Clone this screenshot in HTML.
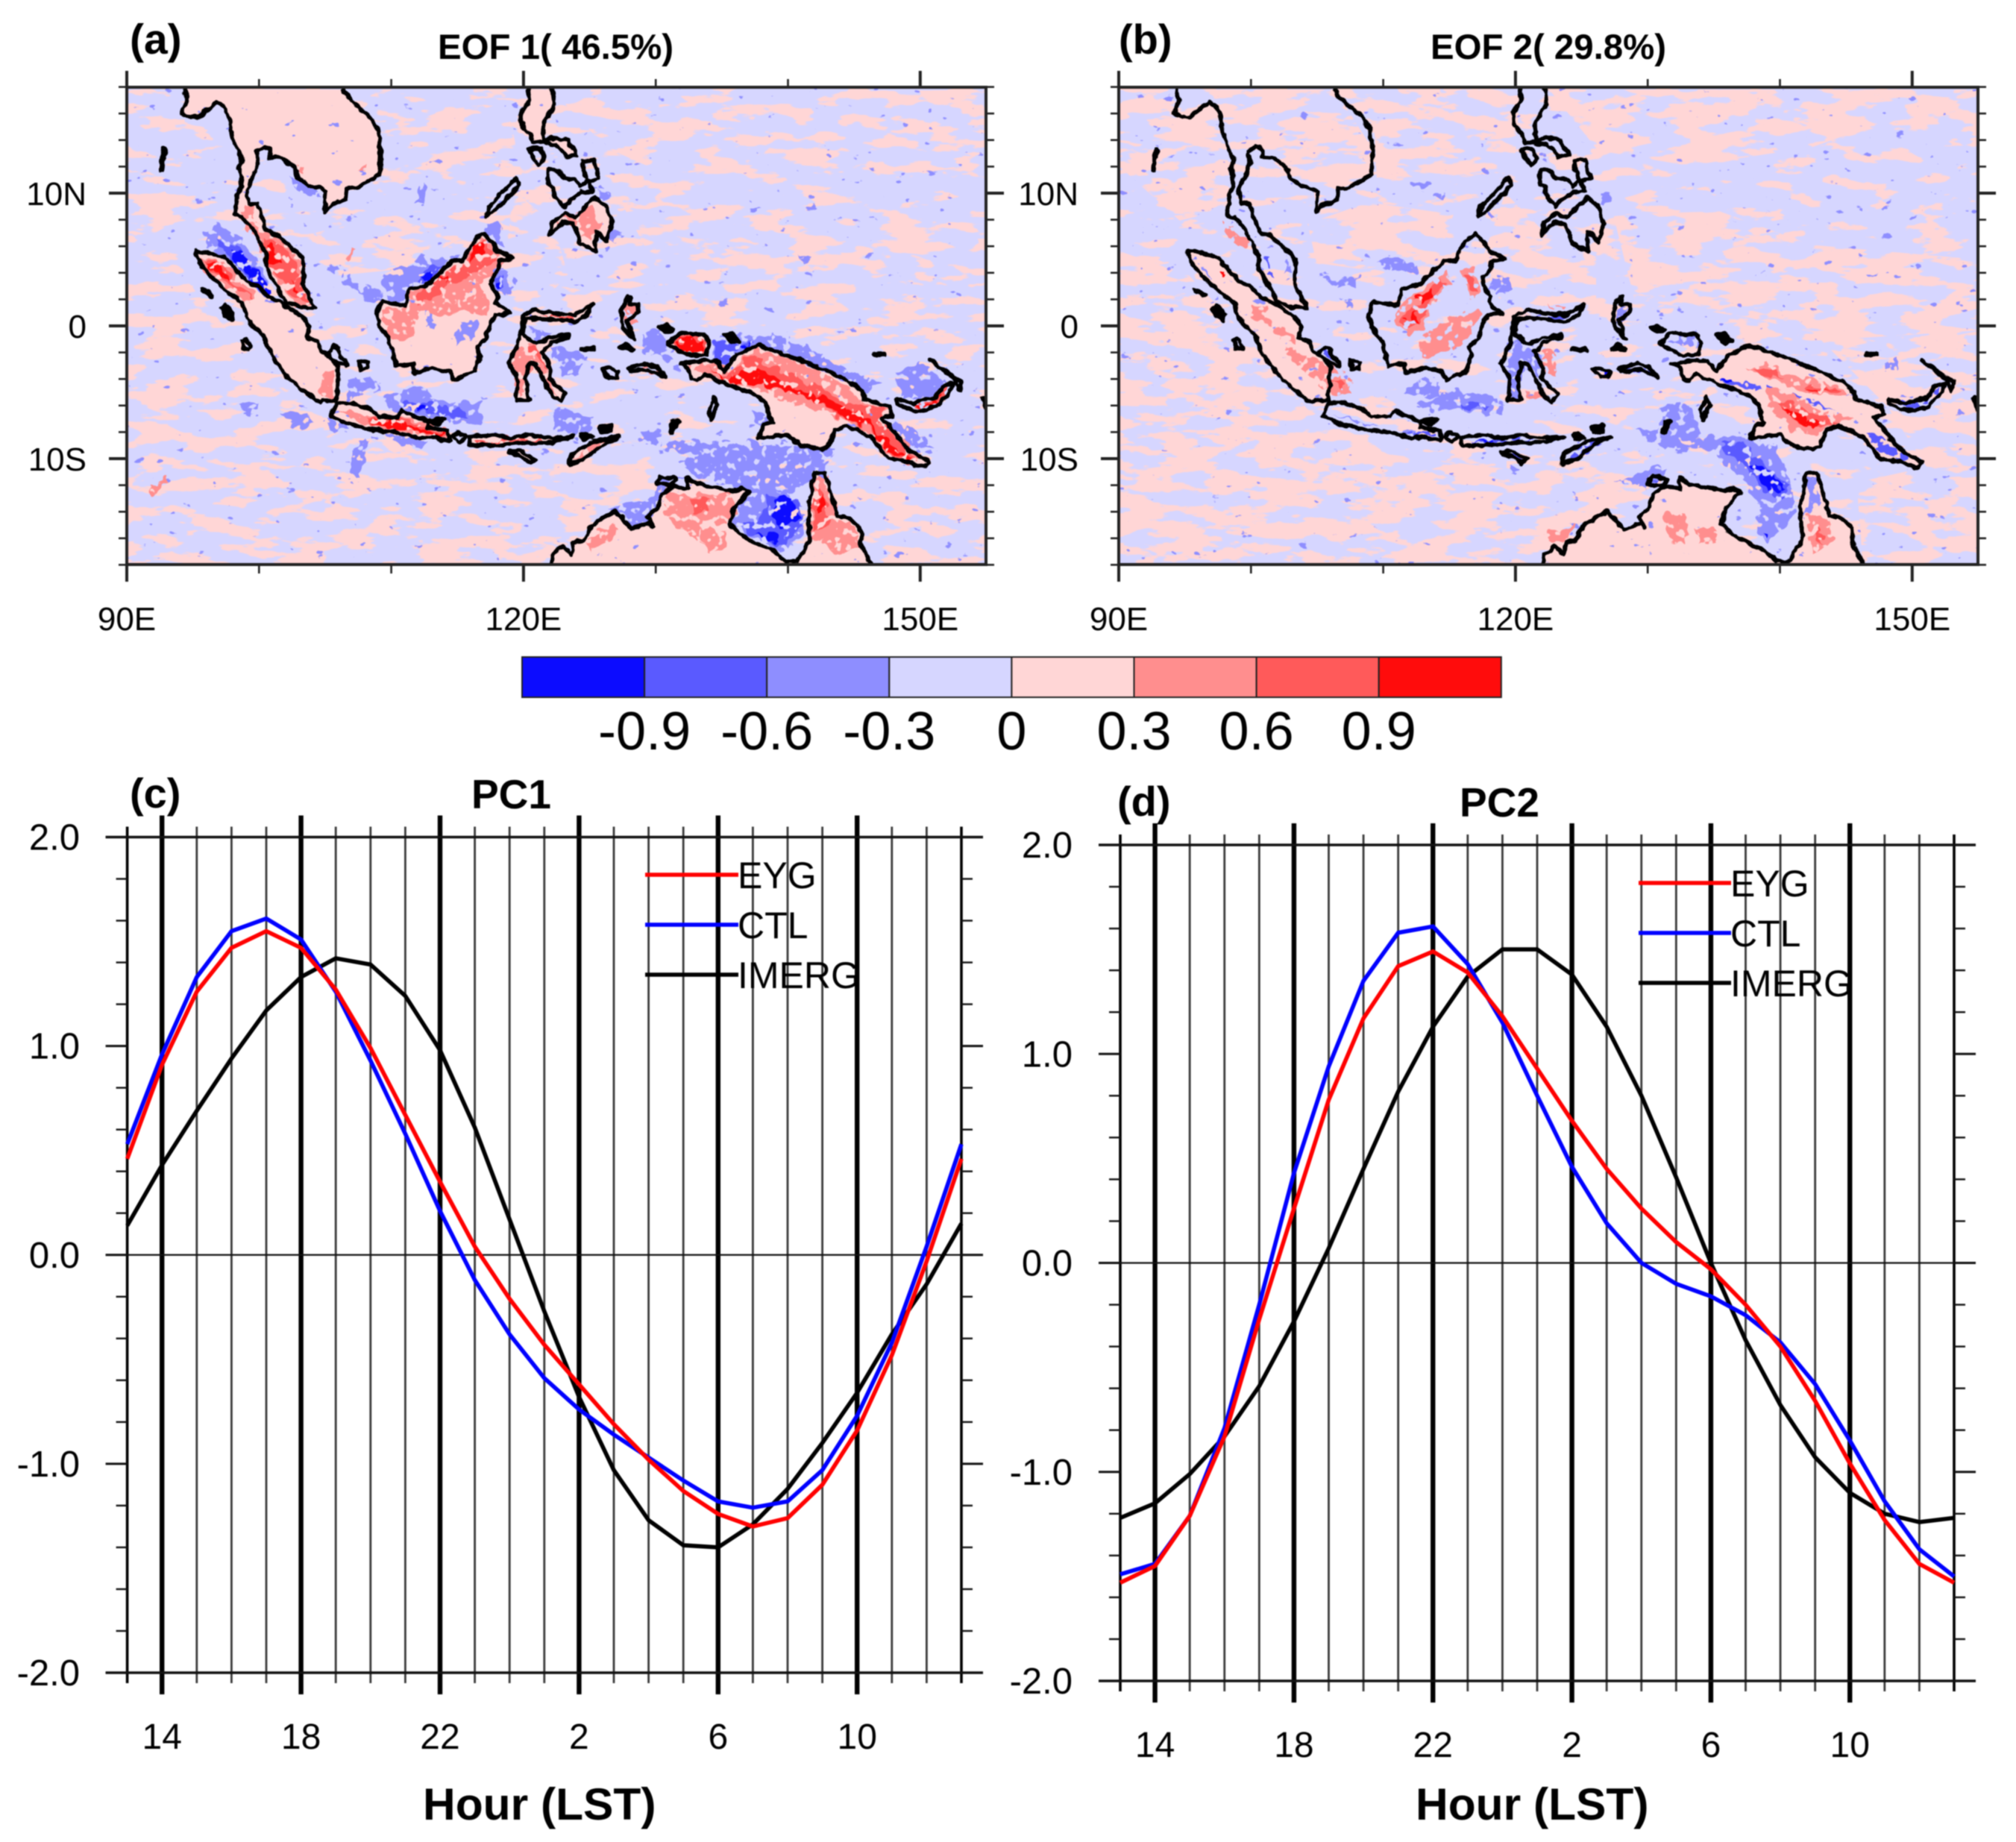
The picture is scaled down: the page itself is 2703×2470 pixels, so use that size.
<!DOCTYPE html>
<html lang="en">
<head>
<meta charset="utf-8">
<title>EOF patterns and principal components</title>
<style>
html,body{margin:0;padding:0;background:#fff;}
#figure{display:block;width:2703px;height:2470px;font-family:"Liberation Sans",sans-serif;filter:blur(.7px);}
text{font-family:"Liberation Sans",sans-serif;fill:#000;}
.ttl{font-weight:bold;}
</style>
</head>
<body>
<svg id="figure" viewBox="0 0 2703 2470" width="2703" height="2470">
<defs>
<filter id="mottleSparse" filterUnits="userSpaceOnUse" x="0" y="0" width="2703" height="800" color-interpolation-filters="sRGB">
<feTurbulence type="fractalNoise" baseFrequency="0.016 0.05" numOctaves="4" seed="7" result="n"/>
<feColorMatrix in="n" type="matrix" values="0 0 0 0 0 0 0 0 0 0 0 0 0 0 0 26 0 0 0 -15.4" result="m"/>
<feComposite in="SourceGraphic" in2="m" operator="in"/>
</filter>
<filter id="mottleDenseA" filterUnits="userSpaceOnUse" x="0" y="0" width="2703" height="800" color-interpolation-filters="sRGB">
<feTurbulence type="fractalNoise" baseFrequency="0.016 0.05" numOctaves="4" seed="7" result="n"/>
<feColorMatrix in="n" type="matrix" values="0 0 0 0 0 0 0 0 0 0 0 0 0 0 0 26 0 0 0 -13.4" result="m"/>
<feComposite in="SourceGraphic" in2="m" operator="in"/>
</filter>
<filter id="mottleDenseB" filterUnits="userSpaceOnUse" x="0" y="0" width="2703" height="800" color-interpolation-filters="sRGB">
<feTurbulence type="fractalNoise" baseFrequency="0.016 0.05" numOctaves="4" seed="7" result="n"/>
<feColorMatrix in="n" type="matrix" values="0 0 0 0 0 0 0 0 0 0 0 0 0 0 0 26 0 0 0 -11.9" result="m"/>
<feComposite in="SourceGraphic" in2="m" operator="in"/>
</filter>
<filter id="speck" filterUnits="userSpaceOnUse" x="0" y="0" width="2703" height="800" color-interpolation-filters="sRGB">
<feTurbulence type="fractalNoise" baseFrequency="0.05 0.08" numOctaves="3" seed="21" result="n"/>
<feColorMatrix in="n" type="matrix" values="0 0 0 0 0 0 0 0 0 0 0 0 0 0 0 26 0 0 0 -19.6" result="m"/>
<feComposite in="SourceGraphic" in2="m" operator="in"/>
</filter>
<filter id="rough" filterUnits="userSpaceOnUse" x="0" y="0" width="2703" height="800" color-interpolation-filters="sRGB">
<feTurbulence type="fractalNoise" baseFrequency="0.07" numOctaves="2" seed="3" result="d"/>
<feDisplacementMap in="SourceGraphic" in2="d" scale="18" xChannelSelector="R" yChannelSelector="G" result="s"/>
<feTurbulence type="fractalNoise" baseFrequency="0.1" numOctaves="2" seed="11" result="h"/>
<feColorMatrix in="h" type="matrix" values="0 0 0 0 0 0 0 0 0 0 0 0 0 0 0 22 0 0 0 -7.9" result="m"/>
<feComposite in="s" in2="m" operator="in"/>
</filter>
<filter id="coastWobble" filterUnits="userSpaceOnUse" x="0" y="0" width="2703" height="800" color-interpolation-filters="sRGB">
<feTurbulence type="fractalNoise" baseFrequency="0.09" numOctaves="2" seed="5" result="d"/>
<feDisplacementMap in="SourceGraphic" in2="d" scale="7" xChannelSelector="R" yChannelSelector="G"/>
</filter>
<clipPath id="clipA"><rect x="170" y="117" width="1152" height="640"/></clipPath>
<clipPath id="clipB"><rect x="1500" y="117" width="1152" height="640"/></clipPath>
</defs>
<rect x="0" y="0" width="2703" height="2470" fill="#fff"/>

<text class="ttl" x="174" y="72" font-size="57">(a)</text>
<text class="ttl" x="587" y="79" font-size="47.4">EOF 1( 46.5%)</text>
<text class="ttl" x="1500" y="72" font-size="56">(b)</text>
<text class="ttl" x="1918" y="79" font-size="47.4">EOF 2( 29.8%)</text>
<text class="ttl" x="174" y="1083" font-size="56">(c)</text>
<text class="ttl" x="632" y="1084" font-size="55">PC1</text>
<text class="ttl" x="1498" y="1094" font-size="56">(d)</text>
<text class="ttl" x="1957" y="1095" font-size="55">PC2</text>
<text class="ttl" x="567" y="2440" font-size="60.5">Hour (LST)</text>
<text class="ttl" x="1898" y="2440" font-size="60.5">Hour (LST)</text>
<g id="layer"></g>
</svg>

<script>
/* ---------- PC time-series data ---------- */
const hourLabels = [13,14,15,16,17,18,19,20,21,22,23,0,1,2,3,4,5,6,7,8,9,10,11,12,13];
const valueTicks = [2.0,1.0,0.0,-1.0,-2.0];

const eygPc1   = [0.46,0.91,1.26,1.47,1.55,1.47,1.27,0.99,0.67,0.35,0.04,-0.21,-0.43,-0.62,-0.81,-0.98,-1.13,-1.24,-1.30,-1.26,-1.10,-0.84,-0.48,-0.03,0.46];
const ctlPc1   = [0.53,0.96,1.33,1.55,1.61,1.51,1.26,0.93,0.58,0.21,-0.12,-0.38,-0.59,-0.74,-0.86,-0.97,-1.08,-1.18,-1.21,-1.18,-1.03,-0.77,-0.42,0.04,0.53];
const imergPc1 = [0.14,0.43,0.69,0.94,1.17,1.33,1.42,1.39,1.24,0.98,0.61,0.17,-0.27,-0.68,-1.03,-1.27,-1.39,-1.40,-1.29,-1.12,-0.90,-0.66,-0.38,-0.14,0.15];

const eygPc2   = [-1.53,-1.45,-1.21,-0.83,-0.27,0.26,0.78,1.17,1.42,1.49,1.39,1.18,0.93,0.68,0.45,0.26,0.10,-0.03,-0.20,-0.40,-0.66,-0.96,-1.23,-1.44,-1.53];
const ctlPc2   = [-1.49,-1.44,-1.21,-0.79,-0.20,0.43,0.94,1.35,1.58,1.61,1.43,1.15,0.80,0.46,0.19,0.00,-0.10,-0.16,-0.25,-0.38,-0.58,-0.85,-1.14,-1.37,-1.50];
const imergPc2 = [-1.22,-1.15,-1.01,-0.83,-0.59,-0.28,0.07,0.45,0.82,1.13,1.37,1.50,1.50,1.38,1.13,0.80,0.41,0.00,-0.37,-0.68,-0.93,-1.10,-1.20,-1.24,-1.22];

/* ---------- colour bar ---------- */
const colorbarColors = ['#0c0cff','#5a5aff','#8e8eff','#d6d6ff','#ffd6d6','#ff8e8e','#ff5a5a','#ff0c0c'];
const colorbarLabels = ['-0.9','-0.6','-0.3','0','0.3','0.6','0.9'];

/* ---------- map axes ---------- */
const lonTickValues = [90,100,110,120,130,140,150];
const lonLabelValues = [90,120,150];
const latLabelValues = [10,0,-10];

/* ---------- map geometry, in data-grid cells (about 0.023 deg each).
   "W" shapes are counted from 90E, "E" shapes from 119.33E, rows from 18N. ---------- */
const coast = {
 mainland:{o:'W',open:1,p:[190,8,197,45,180,88,205,100,235,100,265,75,297,50,320,65,335,100,345,160,365,210,378,240,368,270,378,295,372,330,360,385,355,420,380,430,420,475,460,555,458,590,490,650,520,705,570,725,617,727,580,650,580,565,500,490,460,475,440,420,428,385,400,385,395,340,415,290,430,255,428,210,450,198,470,205,470,232,510,235,550,265,565,300,595,325,635,335,655,345,650,395,648,412,680,385,718,372,722,335,760,330,830,290,835,210,825,140,790,90,740,50,710,10]},
 sumatra:{o:'W',p:[228,540,265,545,320,560,350,590,395,640,430,655,465,690,510,712,560,745,585,765,600,790,590,825,625,835,640,870,660,880,695,920,690,1030,645,1030,635,1040,580,1000,530,955,490,905,465,860,450,820,410,780,395,760,378,710,330,675,290,635,245,590,228,555]},
 bangka:{o:'W',p:[655,880,680,855,695,860,700,885,725,905,722,918,695,905,665,890]},
 belitung:{o:'W',p:[762,900,795,905,790,925,765,928]},
 mentawaiA:{o:'W',p:[250,665,282,685,278,688,250,670]},
 mentawaiB:{o:'W',p:[310,730,325,718,348,745,345,768,325,755]},
 mentawaiC:{o:'W',p:[378,835,390,828,408,855,403,865,385,860]},
 andaman:{o:'W',p:[122,205,112,275,116,275,125,205]},
 borneo:{o:'W',p:[838,705,870,712,915,720,930,665,990,650,1040,600,1070,575,1105,572,1130,520,1170,482,1205,520,1215,540,1270,563,1225,575,1220,600,1200,625,1195,650,1220,690,1215,712,1258,745,1210,750,1190,790,1180,830,1150,855,1160,885,1140,935,1075,965,1060,935,1005,925,990,930,945,940,940,910,885,918,870,860,860,825,830,790,820,745]},
 sulawesi:{o:'W',p:[1340,733,1400,745,1470,750,1510,725,1530,715,1510,750,1470,772,1400,765,1340,762,1310,765,1300,810,1320,830,1345,845,1390,825,1450,815,1450,825,1400,840,1365,870,1380,900,1395,930,1390,960,1415,985,1440,1010,1425,1035,1400,1020,1380,985,1365,950,1345,915,1325,905,1310,960,1320,1030,1280,1030,1285,960,1255,910,1280,860,1295,800,1300,755]},
 java:{o:'W',p:[690,1040,740,1040,800,1060,830,1085,890,1085,905,1065,985,1100,990,1120,1055,1130,1060,1165,1000,1150,960,1155,880,1135,790,1125,720,1105,670,1080]},
 madura:{o:'W',p:[990,1100,1045,1092,1020,1110]},
 bali:{o:'W',p:[1070,1150,1090,1135,1115,1150,1095,1170]},
 sunda:{o:'W',p:[1125,1150,1200,1145,1260,1155,1320,1145,1400,1155,1465,1150,1400,1170,1300,1170,1200,1180,1130,1178]},
 sumba:{o:'W',p:[1255,1200,1290,1195,1340,1225,1325,1235,1290,1215]},
 palawan:{o:'W',p:[1280,300,1290,325,1200,415,1180,425,1190,395]},
 timor:{o:'E',p:[180,1240,190,1205,260,1165,345,1150,300,1170,225,1225]},
 alor:{o:'E',p:[215,1145,235,1138,255,1152,225,1155]},
 wetar:{o:'E',p:[280,1120,320,1112,315,1132,285,1135]},
 luzon:{o:'E',open:1,p:[45,8,50,45,20,85,25,130,50,155,60,185,90,180,120,170,175,175,205,225,170,230,135,190,100,185,90,130,130,60,125,10]},
 mindoro:{o:'E',p:[45,205,85,205,100,240,80,260,65,240]},
 visayas:{o:'E',p:[110,270,145,280,165,300,200,305,215,330,240,310,225,270,220,245,260,240,275,300,245,310,255,345,220,345,185,370,160,395,135,365,125,330,110,325]},
 mindanao:{o:'E',p:[115,490,120,450,165,415,200,430,230,395,265,365,300,390,320,450,300,510,270,475,265,540,215,515,205,480,190,450,160,445,135,465]},
 halmahera:{o:'E',p:[370,690,350,735,355,790,390,830,370,770,405,740,405,715,375,715,378,690]},
 vogelkop:{o:'E',p:[500,845,545,810,620,815,640,840,630,880,580,885,545,870]},
 newGuinea:{o:'E',p:[545,910,625,900,660,900,690,935,730,880,800,850,900,885,1030,935,1100,970,1140,1000,1150,1030,1230,1050,1240,1080,1205,1085,1250,1140,1290,1190,1330,1215,1365,1235,1345,1252,1300,1235,1225,1220,1170,1150,1090,1115,1050,1130,1030,1180,1005,1192,940,1180,900,1145,800,1155,820,1110,845,1105,825,1040,790,1010,700,980,625,945,600,965,580,960,570,925]},
 newBritain:{o:'E',p:[1255,1028,1310,1040,1385,1020,1405,985,1440,975,1430,1005,1385,1050,1335,1065,1290,1060,1255,1040]},
 newIreland:{o:'E',p:[1365,900,1430,945,1470,970,1460,1000,1445,960]},
 bougainville:{o:'E',p:[1535,1020,1552,1030,1548,1060]},
 dashA:{o:'E',p:[1180,878,1215,878,1215,882,1180,882]},
 dashB:{o:'E',p:[220,860,260,860,260,866,220,866]},
 triangle:{o:'E',p:[345,860,365,845,390,865]},
 buru:{o:'E',p:[285,930,310,922,340,935,335,955,310,955]},
 seram:{o:'E',p:[370,925,430,910,470,920,495,955,440,930,380,935]},
 waigeo:{o:'E',p:[475,790,500,785,520,800,495,808]},
 biak:{o:'E',p:[690,815,715,810,738,835,715,842]},
 aru:{o:'E',p:[640,1060,655,1020,668,1045,645,1095]},
 tanimbar:{o:'E',p:[510,1135,520,1100,538,1100,520,1135]},
 melville:{o:'E',p:[465,1305,480,1280,530,1290,515,1310]},
 australia:{o:'E',open:1,p:[120,1568,125,1535,160,1510,185,1540,195,1500,225,1490,255,1440,330,1395,385,1455,440,1435,455,1445,435,1415,470,1380,480,1340,520,1315,570,1320,565,1285,600,1305,720,1330,745,1320,768,1330,720,1385,705,1440,770,1490,850,1525,890,1560,930,1558,970,1490,965,1380,985,1270,1020,1270,1060,1410,1095,1415,1135,1450,1140,1510,1170,1568]}
};
const solidIslands = ['mentawaiA','mentawaiB','andaman','dashA','dashB','triangle','waigeo','biak','tanimbar','alor','wetar','madura','bougainville'];
const landPinkA = ['mainland','sumatra','borneo','sulawesi','java','newGuinea','australia','vogelkop','sunda','mindanao','luzon','timor','sumba'];
const landPinkB = ['sumatra','newGuinea','australia'];

/* background anomaly regions: mottled pink (0 to 0.3) */
const pinkA = [
 ['W',[0,600,200,640,330,800,470,960,620,1060,850,1200,1250,1260,1450,1300,1400,1568,0,1568]],
 ['W',[0,300,120,340,200,420,60,500,0,480]],
 ['W',[0,0,190,0,190,120,60,140,0,100]],
 ['W',[620,480,800,440,1000,400,1100,500,900,600,700,620]],
 ['W',[800,60,1250,60,1300,300,1000,280,850,250]],
 ['W',[1270,340,1400,450,1450,620,1350,720,1230,700]],
 ['E',[150,40,800,20,1568,10,1568,260,1100,300,800,260,500,290,300,200]],
 ['E',[350,380,800,380,1100,450,1568,420,1568,820,1200,880,800,760,500,660]],
 ['E',[1100,1280,1568,1150,1568,1568,1150,1568]],
 ['E',[0,1240,500,1240,300,1400,100,1568,0,1568]]
];
const pinkB = [
 ['W',[0,540,230,620,400,800,620,1060,900,1210,1300,1260,1568,1300,1568,1568,0,1568]],
 ['W',[0,0,340,0,370,400,200,440,0,260]],
 ['W',[190,10,710,10,830,200,830,290,720,340,650,400,640,340,560,290,470,220,430,200,380,240,330,90]],
 ['W',[190,10,710,10,830,200,830,290,720,340,650,400,640,340,560,290,470,220,430,200,380,240,330,90]],
 ['W',[700,0,1320,0,1300,260,1050,300,850,350,840,150]],
 ['W',[620,450,820,380,1100,420,1050,560,800,600,650,580]],
 ['W',[1270,350,1400,480,1568,560,1568,700,1400,720,1250,700,1200,550]],
 ['E',[140,10,1568,10,1568,120,1200,130,1000,200,600,260,300,210]],
 ['E',[350,420,700,410,1000,520,1568,570,1568,800,1100,830,800,760,420,700]],
 ['E',[1000,800,1300,850,1568,800,1568,1568,1170,1568,1150,1300,1380,1250,1250,1050]],
 ['E',[0,1230,450,1230,470,1320,330,1390,130,1500,100,1568,0,1568]]
];
/* contour regions: [colour-bar index, origin, cells] */
const fieldA = [
 [2,'W',[250,480,300,450,360,490,420,560,480,680,450,690,400,640,340,570,270,530]],
 [1,'W',[300,510,350,520,420,590,470,670,455,690,400,630,340,570]],
 [0,'W',[335,545,380,550,440,620,480,680,460,690,400,625]],
 [2,'W',[705,610,760,640,830,665,840,700,800,710,750,670,710,640]],
 [2,'W',[840,610,930,590,960,550,1050,570,1000,640,930,660,910,710,860,700,840,650]],
 [1,'W',[960,620,1010,590,1040,590,990,640,960,650]],
 [0,'W',[960,630,1000,610,990,640]],
 [2,'W',[1190,620,1240,600,1280,640,1260,680,1215,680,1195,660]],
 [1,'W',[1200,630,1235,620,1240,660,1215,670]],
 [0,'W',[1205,640,1225,635,1225,665,1210,665]],
 [2,'W',[1170,460,1220,440,1250,530,1210,520]],
 [2,'W',[530,290,570,310,630,350,600,360,560,340]],
 [2,'W',[720,960,800,945,830,1000,730,1030]],
 [2,'W',[850,1010,980,985,1000,1030,1160,1035,1170,1110,1070,1100,900,1070,860,1050]],
 [1,'W',[900,1040,1000,1040,1100,1060,1120,1090,1010,1075,930,1070]],
 [0,'W',[945,1050,985,1050,985,1070,950,1065]],
 [2,'W',[640,1090,700,1090,730,1130,680,1135]],
 [2,'W',[500,1065,590,1070,620,1110,560,1125,510,1095]],
 [2,'W',[370,1035,440,1040,430,1065,390,1075]],
 [2,'W',[760,1160,820,1150,790,1180,760,1290,735,1260,740,1200]],
 [2,'W',[850,1140,1000,1160,970,1190,880,1170]],
 [2,'W',[1400,870,1510,880,1480,950,1430,960]],
 [2,'W',[1320,790,1400,810,1340,840]],
 [2,'W',[1400,1070,1460,1060,1530,1110,1500,1140,1410,1130]],
 [2,'W',[960,320,985,320,975,390,945,385]],
 [2,'W',[665,585,690,585,690,605,665,605]],
 [2,'E',[410,810,470,795,530,900,500,900,420,870]],
 [2,'E',[650,820,780,820,870,815,960,860,1100,935,1200,970,1150,1000,1100,970,900,885,800,850,730,880,690,930,650,880]],
 [1,'E',[650,830,770,840,720,870,690,925,660,880]],
 [0,'E',[740,845,780,845,750,860]],
 [2,'E',[1250,940,1330,910,1420,960,1420,990,1340,1030,1270,1020]],
 [2,'E',[270,330,320,350,280,375]],
 [2,'E',[300,470,345,480,330,510]],
 [2,'E',[410,1130,480,1130,480,1180,420,1170]],
 [2,'E',[500,1160,800,1170,1050,1190,1010,1290,900,1330,950,1420,945,1470,880,1530,770,1480,705,1440,770,1330,620,1290,540,1240,600,1210,500,1190]],
 [1,'E',[830,1340,930,1340,945,1450,880,1510,770,1470,740,1440,810,1420]],
 [0,'E',[860,1340,910,1340,935,1420,880,1450,850,1420]],
 [0,'E',[790,1470,860,1470,870,1500,820,1490]],
 [2,'E',[300,1380,400,1370,450,1340,480,1290,560,1280,480,1340,440,1425,385,1440,330,1395]],
 [2,'E',[1075,1110,1240,1110,1260,1105,1390,1180,1300,1190,1240,1150]],
 [2,'E',[780,1060,830,1090,840,1110,800,1120]],
 [2,'E',[130,1060,250,1090,200,1160,130,1110]],
 [2,'E',[120,850,220,870,200,950,140,930]],
 [2,'E',[930,555,970,560,950,580]],
 [2,'W',[975,740,1010,740,1005,800,985,790]],
 [2,'W',[1090,780,1150,770,1140,830,1080,840]],
 [5,'W',[240,560,310,565,350,610,420,680,410,710,370,695,300,640,245,590]],
 [6,'W',[250,565,310,575,350,640,410,690,370,680,310,630]],
 [7,'W',[260,575,300,585,340,640,310,620]],
 [5,'W',[360,395,410,400,440,470,500,490,580,570,585,625,590,680,610,720,560,720,500,650,460,595,440,530,380,430]],
 [6,'W',[450,495,510,520,575,610,590,700,545,690,490,620,460,570]],
 [7,'W',[460,520,490,540,500,580,470,570]],
 [7,'W',[540,640,570,680,555,670]],
 [5,'W',[650,940,690,930,685,1030,630,1020]],
 [5,'W',[840,730,920,725,930,670,1000,650,1100,575,1170,490,1240,570,1210,620,1160,640,1190,720,1190,745,1100,740,1040,750,950,740,940,830,890,840,840,780]],
 [6,'W',[950,690,1040,620,1110,580,1170,500,1215,570,1130,620,1040,660,960,720]],
 [7,'W',[1030,630,1060,620,1050,650]],
 [7,'W',[1150,510,1175,520,1170,560,1130,580]],
 [5,'W',[700,1060,820,1090,900,1090,980,1105,1055,1130,1055,1160,960,1145,840,1125,750,1100]],
 [6,'W',[780,1090,900,1095,990,1120,1050,1140,1040,1155,900,1120,790,1115]],
 [7,'W',[790,1095,870,1100,960,1125,1040,1140,1030,1150,940,1130,800,1110]],
 [5,'W',[1270,850,1350,850,1400,1000,1430,1030,1380,990,1330,900,1300,1020,1285,1010,1265,910]],
 [6,'W',[1300,860,1350,860,1390,950,1340,880]],
 [6,'W',[1345,745,1480,760,1450,770]],
 [6,'W',[1135,1160,1200,1160,1300,1155,1400,1160,1300,1168,1140,1175]],
 [5,'W',[555,265,590,270,580,290]],
 [5,'W',[750,265,795,260,785,285]],
 [5,'W',[730,535,745,545,725,580]],
 [5,'W',[70,1320,130,1290,135,1305,90,1335]],
 [5,'E',[140,440,250,400,280,450,260,500]],
 [6,'E',[505,845,560,815,620,820,635,850,620,880,560,880]],
 [7,'E',[530,845,570,825,620,840,620,870,570,880]],
 [5,'E',[570,920,620,905,660,900,700,940,790,860,910,895,1030,945,1130,1020,1150,1040,1230,1060,1205,1085,1330,1215,1300,1235,1225,1215,1170,1150,1100,1100,990,1060,930,1050,820,1000,700,980,620,945]],
 [6,'E',[620,910,680,960,780,880,850,920,1000,990,1100,1040,1220,1060,1200,1100,1320,1225,1230,1215,1160,1120,1060,1080,960,1010,820,970,700,970]],
 [7,'E',[640,930,700,965,790,920,900,985,1010,1020,1090,1060,1150,1080,1185,1120,1250,1190,1310,1225,1225,1205,1170,1120,1090,1090,990,1030,860,985,700,975]],
 [6,'E',[1290,1040,1370,1030,1410,985,1425,985,1400,1040,1330,1055]],
 [7,'E',[1310,1045,1370,1040,1400,1010,1390,1040,1330,1052]],
 [5,'E',[500,1340,700,1330,730,1390,700,1440,620,1420,600,1480,650,1530,550,1450,490,1410]],
 [6,'E',[570,1350,640,1350,640,1390,590,1400]],
 [5,'E',[230,1490,330,1440,340,1470,250,1530]],
 [5,'E',[600,1450,700,1460,700,1520,640,1530]],
 [5,'E',[975,1400,990,1280,1020,1280,1060,1420,1100,1430,1130,1470,1130,1520,1060,1540,1000,1490,970,1490]],
 [6,'E',[980,1360,1000,1310,1030,1400,1040,1440,990,1460]],
 [7,'E',[990,1370,1010,1350,1015,1400,995,1410]],
 [5,'E',[360,730,400,720,400,770,375,770]],
 [5,'E',[190,1230,240,1180,340,1155,240,1215]],
 [5,'E',[385,925,480,935,490,950,400,932]]
];
const fieldB = [
 [2,'W',[850,580,900,560,980,590,970,610,880,600]],
 [2,'W',[670,630,790,625,780,660,680,645]],
 [2,'W',[960,315,1030,310,1025,320,965,330]],
 [2,'W',[1030,355,1080,350,1075,365,1030,368]],
 [2,'W',[1225,625,1290,630,1290,670,1250,685,1220,660]],
 [2,'W',[720,690,770,715,750,725]],
 [2,'W',[1210,415,1250,430,1230,445]],
 [2,'W',[240,560,290,600,320,650,300,630]],
 [1,'W',[490,560,500,565,505,630,495,625]],
 [2,'W',[540,545,575,600,555,620]],
 [1,'W',[665,870,700,870,715,910]],
 [2,'W',[700,1080,800,1100,850,1110,810,1115]],
 [1,'W',[940,1130,1040,1130,1040,1145,950,1140]],
 [1,'W',[1135,1160,1240,1160,1400,1155,1250,1175]],
 [0,'W',[1180,1162,1240,1162,1240,1172]],
 [1,'W',[1290,1205,1330,1225,1310,1225]],
 [2,'W',[1270,900,1300,830,1360,850,1400,900,1380,950,1340,900,1300,1030,1280,1020]],
 [1,'W',[1340,745,1480,755,1450,770]],
 [2,'W',[930,1010,1000,950,1070,980,1050,1020,960,1010]],
 [2,'W',[980,1040,1110,1000,1250,1020,1260,1080,1120,1060,1000,1060]],
 [1,'W',[1120,1040,1220,1045,1200,1060,1130,1055]],
 [2,'E',[520,1040,600,1040,640,1150,700,1150,780,1150,880,1180,930,1290,950,1400,860,1500,820,1470,830,1370,760,1280,680,1200,600,1190,520,1190,420,1130,500,1120]],
 [1,'E',[700,1170,780,1170,860,1260,930,1310,910,1350,850,1340,790,1250,720,1200]],
 [0,'E',[800,1230,830,1240,920,1320,860,1330]],
 [0,'E',[840,1470,860,1470,850,1485]],
 [2,'E',[475,1250,530,1260,500,1300,470,1320,360,1300]],
 [1,'E',[475,1295,520,1290,510,1305]],
 [2,'E',[985,1280,1020,1280,1030,1360,985,1420]],
 [1,'E',[700,965,790,970,900,1000,1000,1030,1080,1060,1000,1045,890,1010,790,985,705,975]],
 [0,'E',[705,962,740,962,740,972,705,972]],
 [1,'E',[1190,1130,1330,1225,1260,1220,1200,1170]],
 [1,'E',[1290,1040,1370,1040,1410,990,1425,975,1420,1010,1370,1055,1300,1055]],
 [1,'E',[385,925,470,925,490,950,400,932]],
 [0,'E',[300,935,335,940,320,950]],
 [2,'E',[520,840,620,820,630,860,560,850]],
 [2,'E',[360,730,400,730,370,780]],
 [1,'E',[190,1230,250,1180,340,1155,230,1225]],
 [2,'E',[1240,910,1290,900,1280,930,1245,935]],
 [2,'E',[310,350,340,350,345,380,310,385]],
 [5,'W',[905,770,930,720,1000,660,1080,610,1090,650,1030,710,1000,790,960,815]],
 [6,'W',[930,770,950,740,1000,690,1060,630,1075,650,1030,700,990,770,950,790]],
 [7,'W',[975,690,1030,665,1030,700,985,710]],
 [7,'W',[940,765,985,740,975,780]],
 [5,'W',[1130,600,1165,595,1185,660,1160,705,1130,650]],
 [6,'W',[1140,620,1165,620,1170,670,1150,665]],
 [5,'W',[985,830,1060,770,1180,730,1185,760,1130,850,1050,880,990,890]],
 [5,'W',[430,715,490,720,495,780,450,770]],
 [5,'W',[510,790,570,810,580,840,530,830]],
 [5,'W',[545,860,640,890,770,960,765,1010,690,1010,640,960,570,900]],
 [6,'W',[700,960,750,970,730,990]],
 [7,'W',[330,600,340,600,350,630,340,630]],
 [5,'W',[340,440,430,520,400,530,340,470]],
 [5,'W',[1390,860,1430,870,1440,960,1400,950]],
 [5,'W',[1340,1000,1380,1010,1420,1040,1370,1030]],
 [5,'W',[1400,720,1470,720,1460,735]],
 [5,'E',[780,925,850,905,920,950,1000,965,1100,985,1130,1020,1000,1010,930,985,850,950]],
 [6,'E',[800,925,860,920,910,960,840,945]],
 [6,'E',[970,975,1090,990,1080,1005,990,1000]],
 [7,'E',[960,985,1085,995,1010,995]],
 [5,'E',[855,1000,900,990,1000,1050,1130,1090,1080,1110,1020,1145,940,1130,860,1060]],
 [6,'E',[880,1030,920,1030,990,1070,1100,1095,1030,1125,950,1100]],
 [7,'E',[900,1045,960,1065,985,1095,1030,1100,1010,1120,940,1090]],
 [5,'E',[520,1400,590,1410,590,1500,530,1500]],
 [5,'E',[620,1440,690,1460,690,1500,630,1500]],
 [5,'E',[115,1470,230,1440,180,1500,150,1490]],
 [5,'E',[1000,1400,1060,1420,1070,1490,1010,1540,990,1480]],
 [6,'E',[1015,1460,1040,1470,1030,1510]]
];

/* ---------- helpers and axis functions ---------- */
const root = document.getElementById('figure');
const layer = document.getElementById('layer');
const NS = root.namespaceURI;
function mk(tag, attrs, parent){
  const e = document.createElementNS(NS, tag);
  for (const k in attrs) e.setAttribute(k, attrs[k]);
  parent.appendChild(e);
  return e;
}
const GRID_LON = 0.02302, GRID_LAT = 0.02293;
const ORIGIN = {W:90, E:119.33};
const mapPanels = {
  a:{x0:170, clip:'clipA', land:landPinkA, pink:pinkA, field:fieldA, tag:'a', labelX:116, mottle:'mottleDenseA'},
  b:{x0:1500, clip:'clipB', land:landPinkB, pink:pinkB, field:fieldB, tag:'b', labelX:1446, mottle:'mottleDenseB'}
};
const mapX = (panel, lon) => panel.x0 + (lon - 90) * 17.73;
const mapY = lat => 437 - lat * 17.8;
function cellsToPath(panel, origin, cells, close){
  let d = '';
  for (let i = 0; i < cells.length; i += 2){
    const lon = ORIGIN[origin] + cells[i] * GRID_LON;
    const lat = 18.03 - cells[i+1] * GRID_LAT;
    d += (i ? 'L' : 'M') + mapX(panel, lon).toFixed(1) + ' ' + mapY(lat).toFixed(1);
  }
  return d + (close ? 'Z' : '');
}

function drawMap(panel){
  const x1 = panel.x0 + 1152, y0 = 117, y1 = 757;
  const g = mk('g', {'clip-path':'url(#' + panel.clip + ')'}, layer);
  
  

  const base = mk('rect', {x:panel.x0, y:y0, width:1152, height:640, fill:colorbarColors[3]}, g);
  
  

  const sparse = mk('rect', {x:panel.x0, y:y0, width:1152, height:640, fill:colorbarColors[4], filter:'url(#mottleSparse)'}, g);
  
  

  const dense = mk('g', {fill:colorbarColors[4], filter:'url(#' + panel.mottle + ')'}, g);
  
  
  panel.pink.forEach(r => {
    const p = mk('path', {d:cellsToPath(panel, r[0], r[1], true)}, dense);
    
    
  });

  const land = mk('g', {fill:colorbarColors[4]}, g);
  
  
  panel.land.forEach(n => {
    const c = coast[n];
    const p = mk('path', {d:cellsToPath(panel, c.o, c.p, true)}, land);
    
    
  });

  const specks = mk('rect', {x:panel.x0, y:y0, width:1152, height:640, fill:colorbarColors[2], filter:'url(#speck)'}, g);
  
  

  const order = [2,1,0,5,6,7];
  order.forEach(level => {
    const lv = mk('g', {fill:colorbarColors[level], filter:'url(#rough)'}, g);
    
    
    panel.field.filter(r => r[0] === level).forEach(r => {
      const p = mk('path', {d:cellsToPath(panel, r[1], r[2], true)}, lv);
      
      
    });
  });

  const cg = mk('g', {fill:'none', stroke:'#000', 'stroke-width':5.6, 'stroke-linejoin':'round', 'stroke-linecap':'round', filter:'url(#coastWobble)'}, g);
  
  
  Object.keys(coast).forEach(n => {
    const c = coast[n];
    const p = mk('path', {d:cellsToPath(panel, c.o, c.p, !c.open), fill:solidIslands.indexOf(n) >= 0 ? '#000' : 'none'}, cg);
    
    
  });

  const ticks = mk('g', {stroke:'#222', fill:'none'}, layer);
  
  
  const frame = mk('rect', {x:panel.x0, y:y0, width:1152, height:640, 'stroke-width':4}, ticks);
  
  
  lonTickValues.forEach(lon => {
    const major = lonLabelValues.indexOf(lon) >= 0;
    const x = mapX(panel, lon);
    const t = mk('line', {x1:x, x2:x, y1:y0 - (major ? 22 : 11), y2:y0, 'stroke-width':major ? 4 : 2.6}, ticks);
    
    
    const b = mk('line', {x1:x, x2:x, y1:y1, y2:y1 + (major ? 23 : 12), 'stroke-width':major ? 4 : 2.6}, ticks);
    
    
  });
  for (let lat = -18; lat <= 18; lat += 2){
    const major = latLabelValues.indexOf(lat) >= 0;
    const y = mapY(lat);
    const l = mk('line', {x1:panel.x0 - (major ? 24 : 11), x2:panel.x0, y1:y, y2:y, 'stroke-width':major ? 4 : 2.6}, ticks);
    
    
    const r = mk('line', {x1:x1, x2:x1 + (major ? 24 : 11), y1:y, y2:y, 'stroke-width':major ? 4 : 2.6}, ticks);
    
    
  }
  lonLabelValues.forEach(lon => {
    const t = mk('text', {x:mapX(panel, lon), y:845, 'font-size':44, 'text-anchor':'middle'}, layer);
    t.textContent = lon + 'E';
    
    
  });
  latLabelValues.forEach(lat => {
    const t = mk('text', {x:panel.labelX, y:mapY(lat) + 16, 'font-size':44, 'text-anchor':'end'}, layer);
    t.textContent = lat === 0 ? '0' : Math.abs(lat) + (lat > 0 ? 'N' : 'S');
    
    
  });
}

/* ---------- colour bar ---------- */
function drawColorbar(){
  const x0 = 700, step = 164.1, y = 881, h = 54;
  const g = mk('g', {}, layer);
  
  
  colorbarColors.forEach((c, i) => {
    const r = mk('rect', {x:x0 + i * step, y:y, width:step, height:h, fill:c, stroke:'#222', 'stroke-width':2}, g);
    
    
  });
  colorbarLabels.forEach((s, i) => {
    const t = mk('text', {x:x0 + (i + 1) * step, y:1005, 'font-size':72, 'text-anchor':'middle'}, g);
    t.textContent = s;
    
    
  });
}

/* ---------- PC panels ---------- */
const pcPanels = [
  {tag:'c', x0:170.6, x1:1289, yTop:1122.5, yBot:2243, labelX:107, tickBase:2345, eyg:eygPc1, ctl:ctlPc1, imerg:imergPc1, legX:865, legEnd:990, legY:[1173,1240,1307]},
  {tag:'d', x0:1502, x1:2620, yTop:1133, yBot:2254, labelX:1438, tickBase:2356, eyg:eygPc2, ctl:ctlPc2, imerg:imergPc2, legX:2197, legEnd:2321, legY:[1184,1251,1318]}
];
const xHour = (p, i) => p.x0 + (p.x1 - p.x0) * i / (hourLabels.length - 1);
const yVal = (p, v) => p.yTop + (2 - v) / 4 * (p.yBot - p.yTop);

function drawPc(p){
  const g = mk('g', {}, layer);
  
  

  hourLabels.forEach((h, i) => {
    const major = (i - 1) % 4 === 0;
    const edge = i === 0 || i === hourLabels.length - 1;
    const x = xHour(p, i);
    const l = mk('line', {x1:x, x2:x,
      y1:p.yTop - (major ? 29 : 14), y2:p.yBot + (major ? 29 : 14),
      stroke:major || edge ? '#000' : '#3a3a3a',
      'stroke-width':major ? 6.4 : (edge ? 3.6 : 2.8)}, g);
    
    
    if (major){
      const t = mk('text', {x:x, y:p.tickBase, 'font-size':48, 'text-anchor':'middle'}, g);
      t.textContent = h;
      
      
    }
  });

  for (let k = -10; k <= 10; k++){
    const v = k / 5;
    const major = k % 5 === 0;
    const y = yVal(p, v);
    const l = mk('line', {x1:p.x0 - (major ? 29 : 15), x2:p.x0, y1:y, y2:y, stroke:'#111', 'stroke-width':major ? 3 : 2.4}, g);
    
    
    const r = mk('line', {x1:p.x1, x2:p.x1 + (major ? 29 : 15), y1:y, y2:y, stroke:'#111', 'stroke-width':major ? 3 : 2.4}, g);
    
    
  }
  valueTicks.forEach(v => {
    const y = yVal(p, v);
    if (Math.abs(v) === 2 || v === 0){
      const l = mk('line', {x1:p.x0 - 29, x2:p.x1 + 29, y1:y, y2:y, stroke:'#111', 'stroke-width':v === 0 ? 2.2 : 3.4}, g);
      
      
    }
    const t = mk('text', {x:p.labelX, y:y + 17, 'font-size':49, 'text-anchor':'end'}, g);
    t.textContent = v.toFixed(1);
    
    
  });

  const series = [
    ['imerg', p.imerg, '#000', 'IMERG'],
    ['ctl', p.ctl, '#0000ff', 'CTL'],
    ['eyg', p.eyg, '#ff0000', 'EYG']
  ];
  series.forEach(s => {
    const pts = s[1].map((v, i) => xHour(p, i).toFixed(1) + ',' + yVal(p, v).toFixed(1)).join(' ');
    const pl = mk('polyline', {points:pts, fill:'none', stroke:s[2], 'stroke-width':5.6, 'stroke-linejoin':'miter'}, g);
    
    
  });

  const legend = [['EYG','#ff0000'],['CTL','#0000ff'],['IMERG','#000']];
  legend.forEach((e, i) => {
    const ly = p.legY[i];
    const l = mk('line', {x1:p.legX, x2:p.legEnd, y1:ly, y2:ly, stroke:e[1], 'stroke-width':5.4}, g);
    
    
    const t = mk('text', {x:p.legEnd - 1, y:ly + 18, 'font-size':50}, g);
    t.textContent = e[0];
    
    
  });
}

drawMap(mapPanels.a);
drawMap(mapPanels.b);
drawColorbar();
pcPanels.forEach(drawPc);
</script>
</body>
</html>
